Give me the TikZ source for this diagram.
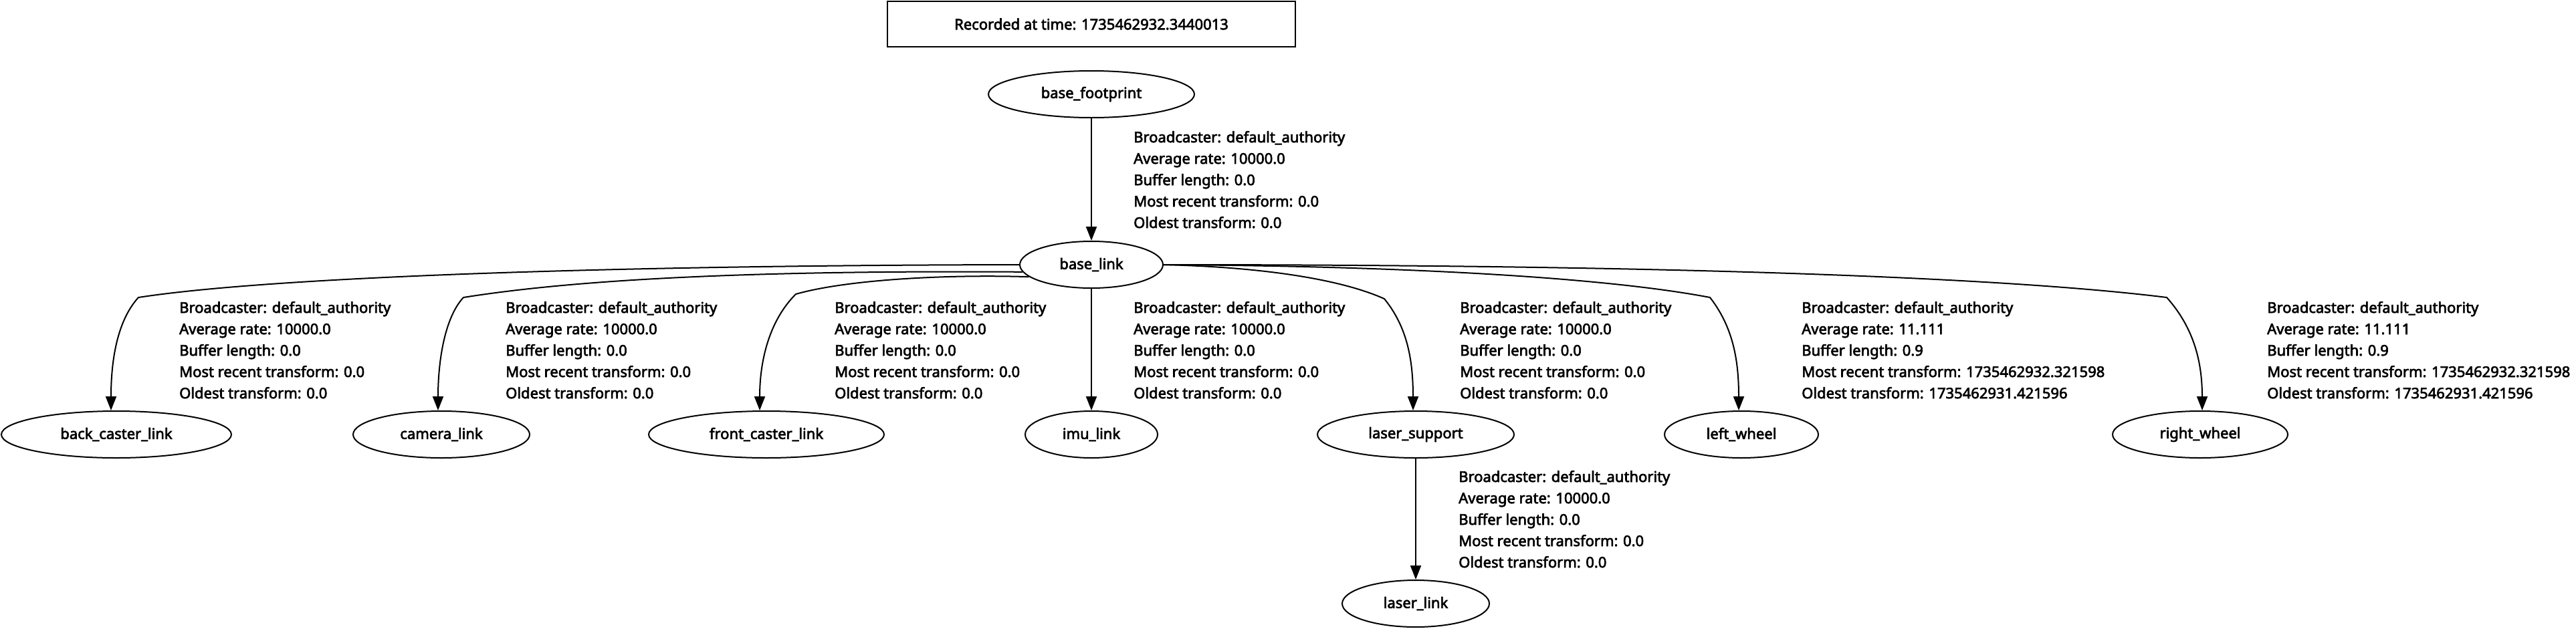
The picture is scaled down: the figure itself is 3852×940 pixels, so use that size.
\documentclass[tikz,border=0pt]{standalone}
\usepackage{fontspec}
\newfontfamily\nsbold{Noto Sans}[FakeBold=3]
\usetikzlibrary{arrows.meta,shapes.geometric}
\newcommand{\lblfont}{\nsbold\fontsize{22}{32}\selectfont}
\tikzset{
  frame/.style={ellipse,draw,line width=2pt,inner sep=0pt,minimum height=70pt,font=\lblfont},
  edge/.style={line width=2pt,-{Triangle[length=21pt,width=16pt]}},
  lab/.style={anchor=base west,align=left,inner sep=0pt,font=\lblfont},
}
\begin{document}
\begin{tikzpicture}[x=1pt,y=-1pt]
\useasboundingbox (0,0) rectangle (3852,940);
% title
\node[draw,line width=2pt,minimum width=610pt,minimum height=68pt,inner sep=0pt,font=\lblfont] (title) at (1632,36) {Recorded at time: 1735462932.3440013};
% nodes
\node[frame,minimum width=308pt] (base_footprint) at (1632,141) {base\_footprint};
\node[frame,minimum width=214pt] (base_link) at (1632,396) {base\_link};
\node[frame,minimum width=344pt] (back_caster_link) at (174,650) {back\_caster\_link};
\node[frame,minimum width=264pt] (camera_link) at (660,650) {camera\_link};
\node[frame,minimum width=352pt] (front_caster_link) at (1146,650) {front\_caster\_link};
\node[frame,minimum width=198pt] (imu_link) at (1632,650) {imu\_link};
\node[frame,minimum width=294pt] (laser_support) at (2117,650) {laser\_support};
\node[frame,minimum width=230pt] (left_wheel) at (2604,650) {left\_wheel};
\node[frame,minimum width=262pt] (right_wheel) at (3290,650) {right\_wheel};
\node[frame,minimum width=220pt] (laser_link) at (2117,903) {laser\_link};
% edges
\draw[edge] (base_footprint.south) -- (base_link.north);
\draw[edge] (base_link.south) -- (imu_link.north);
\draw[edge] (laser_support.south) -- (laser_link.north);
\draw[edge] (base_link.180) .. controls (900,397) and (400,415) .. (207,445)
  .. controls (175,480) and (166,540) .. ([xshift=-8pt]back_caster_link.north);
\draw[edge] (base_link.186) .. controls (1100,404) and (850,420) .. (693,445)
  .. controls (665,475) and (655,540) .. ([xshift=-5pt]camera_link.north);
\draw[edge] (base_link.191) .. controls (1400,410) and (1260,420) .. (1190,440)
  .. controls (1150,480) and (1136,540) .. ([xshift=-10pt]front_caster_link.north);
\draw[edge] (base_link.0) .. controls (1900,400) and (2010,420) .. (2070,447)
  .. controls (2105,490) and (2113,540) .. ([xshift=-4pt]laser_support.north);
\draw[edge] (base_link.0) .. controls (2100,398) and (2400,415) .. (2557,445)
  .. controls (2592,490) and (2600,540) .. ([xshift=-4pt]left_wheel.north);
\draw[edge] (base_link.0) .. controls (2500,396) and (3000,415) .. (3240,445)
  .. controls (3280,490) and (3293,540) .. ([xshift=3pt]right_wheel.north);
% labels (anchored at baseline of last line)
\node[lab] (l_fp) at (1695,341) {Broadcaster: default\_authority\\Average rate: 10000.0\\Buffer length: 0.0\\Most recent transform: 0.0\\Oldest transform: 0.0};
\node[lab] (l_back) at (268,596) {Broadcaster: default\_authority\\Average rate: 10000.0\\Buffer length: 0.0\\Most recent transform: 0.0\\Oldest transform: 0.0};
\node[lab] (l_cam) at (756,596) {Broadcaster: default\_authority\\Average rate: 10000.0\\Buffer length: 0.0\\Most recent transform: 0.0\\Oldest transform: 0.0};
\node[lab] (l_front) at (1248,596) {Broadcaster: default\_authority\\Average rate: 10000.0\\Buffer length: 0.0\\Most recent transform: 0.0\\Oldest transform: 0.0};
\node[lab] (l_imu) at (1695,596) {Broadcaster: default\_authority\\Average rate: 10000.0\\Buffer length: 0.0\\Most recent transform: 0.0\\Oldest transform: 0.0};
\node[lab] (l_ls) at (2183,596) {Broadcaster: default\_authority\\Average rate: 10000.0\\Buffer length: 0.0\\Most recent transform: 0.0\\Oldest transform: 0.0};
\node[lab] (l_lw) at (2694,596) {Broadcaster: default\_authority\\Average rate: 11.111\\Buffer length: 0.9\\Most recent transform: 1735462932.321598\\Oldest transform: 1735462931.421596};
\node[lab] (l_rw) at (3390,596) {Broadcaster: default\_authority\\Average rate: 11.111\\Buffer length: 0.9\\Most recent transform: 1735462932.321598\\Oldest transform: 1735462931.421596};
\node[lab] (l_ll) at (2181,849) {Broadcaster: default\_authority\\Average rate: 10000.0\\Buffer length: 0.0\\Most recent transform: 0.0\\Oldest transform: 0.0};
\end{tikzpicture}
\end{document}
